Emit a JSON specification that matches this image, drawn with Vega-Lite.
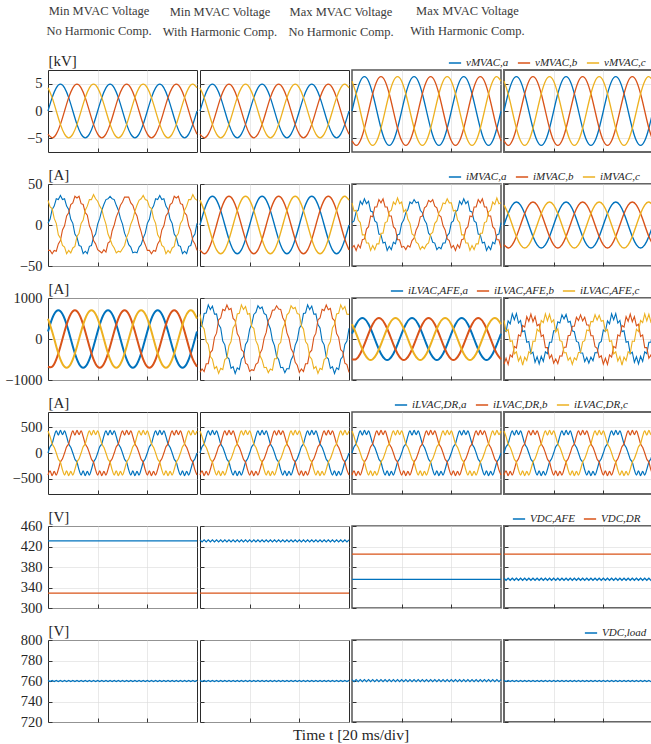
{
"$schema":"https://vega.github.io/schema/vega-lite/v6.json",
"padding":{"left":4,"top":3,"right":0,"bottom":0},
"config":{
"font":"Liberation Serif",
"view":{"stroke":"#2b2b2b","strokeWidth":1},
"axis":{"domain":false,"grid":true,"gridColor":"#dadada","gridWidth":0.6,"ticks":true,"tickSize":-4,"tickColor":"#333333","tickWidth":1,"labelFont":"Liberation Serif","labelFontSize":14.5,"labelColor":"#262626","labelPadding":10,"titleFont":"Liberation Serif","titleFontWeight":"normal","titleColor":"#262626","titleFontSize":15},
"axisY":{"titleAngle":0,"titleAlign":"left","titleBaseline":"alphabetic","titleX":0,"titleY":-5,"format":"d"},
"legend":{"orient":"none","direction":"horizontal","symbolType":"stroke","symbolStrokeWidth":1.5,"symbolSize":150,"labelFont":"Liberation Serif","labelFontStyle":"italic","labelFontSize":11,"labelColor":"#262626","columnPadding":5,"labelOffset":4,"padding":0},
"title":{"font":"Liberation Serif","fontSize":12.5,"fontWeight":"normal","color":"#3a3a3a","lineHeight":20,"offset":32,"anchor":"middle","frame":"group"}
},
"datasets":{
"vmin":[{"k":0,"a":0,"b":-4.24,"c":4.24},{"k":2,"a":2.45,"b":-4.9,"c":2.45},{"k":4,"a":4.24,"b":-4.24,"c":0},{"k":6,"a":4.9,"b":-2.45,"c":-2.45},{"k":8,"a":4.24,"b":0,"c":-4.24},{"k":10,"a":2.45,"b":2.45,"c":-4.9},{"k":12,"a":0,"b":4.24,"c":-4.24},{"k":14,"a":-2.45,"b":4.9,"c":-2.45},{"k":16,"a":-4.24,"b":4.24,"c":0},{"k":18,"a":-4.9,"b":2.45,"c":2.45},{"k":20,"a":-4.24,"b":0,"c":4.24},{"k":22,"a":-2.45,"b":-2.45,"c":4.9},
{"k":24,"a":0,"b":-4.24,"c":4.24},{"k":26,"a":2.45,"b":-4.9,"c":2.45},{"k":28,"a":4.24,"b":-4.24,"c":0},{"k":30,"a":4.9,"b":-2.45,"c":-2.45},{"k":32,"a":4.24,"b":0,"c":-4.24},{"k":34,"a":2.45,"b":2.45,"c":-4.9},{"k":36,"a":0,"b":4.24,"c":-4.24},{"k":38,"a":-2.45,"b":4.9,"c":-2.45},{"k":40,"a":-4.24,"b":4.24,"c":0},{"k":42,"a":-4.9,"b":2.45,"c":2.45},{"k":44,"a":-4.24,"b":0,"c":4.24},{"k":46,"a":-2.45,"b":-2.45,"c":4.9},
{"k":48,"a":0,"b":-4.24,"c":4.24},{"k":50,"a":2.45,"b":-4.9,"c":2.45},{"k":52,"a":4.24,"b":-4.24,"c":0},{"k":54,"a":4.9,"b":-2.45,"c":-2.45},{"k":56,"a":4.24,"b":0,"c":-4.24},{"k":58,"a":2.45,"b":2.45,"c":-4.9},{"k":60,"a":0,"b":4.24,"c":-4.24},{"k":62,"a":-2.45,"b":4.9,"c":-2.45},{"k":64,"a":-4.24,"b":4.24,"c":0},{"k":66,"a":-4.9,"b":2.45,"c":2.45},{"k":68,"a":-4.24,"b":0,"c":4.24},{"k":70,"a":-2.45,"b":-2.45,"c":4.9},{"k":72,"a":0,"b":-4.24,"c":4.24}],
"vmax":[{"k":0,"a":0,"b":-5.46,"c":5.46},{"k":2,"a":3.15,"b":-6.3,"c":3.15},{"k":4,"a":5.46,"b":-5.46,"c":0},{"k":6,"a":6.3,"b":-3.15,"c":-3.15},{"k":8,"a":5.46,"b":0,"c":-5.46},{"k":10,"a":3.15,"b":3.15,"c":-6.3},{"k":12,"a":0,"b":5.46,"c":-5.46},{"k":14,"a":-3.15,"b":6.3,"c":-3.15},{"k":16,"a":-5.46,"b":5.46,"c":0},{"k":18,"a":-6.3,"b":3.15,"c":3.15},{"k":20,"a":-5.46,"b":0,"c":5.46},{"k":22,"a":-3.15,"b":-3.15,"c":6.3},
{"k":24,"a":0,"b":-5.46,"c":5.46},{"k":26,"a":3.15,"b":-6.3,"c":3.15},{"k":28,"a":5.46,"b":-5.46,"c":0},{"k":30,"a":6.3,"b":-3.15,"c":-3.15},{"k":32,"a":5.46,"b":0,"c":-5.46},{"k":34,"a":3.15,"b":3.15,"c":-6.3},{"k":36,"a":0,"b":5.46,"c":-5.46},{"k":38,"a":-3.15,"b":6.3,"c":-3.15},{"k":40,"a":-5.46,"b":5.46,"c":0},{"k":42,"a":-6.3,"b":3.15,"c":3.15},{"k":44,"a":-5.46,"b":0,"c":5.46},{"k":46,"a":-3.15,"b":-3.15,"c":6.3},
{"k":48,"a":0,"b":-5.46,"c":5.46},{"k":50,"a":3.15,"b":-6.3,"c":3.15},{"k":52,"a":5.46,"b":-5.46,"c":0},{"k":54,"a":6.3,"b":-3.15,"c":-3.15},{"k":56,"a":5.46,"b":0,"c":-5.46},{"k":58,"a":3.15,"b":3.15,"c":-6.3},{"k":60,"a":0,"b":5.46,"c":-5.46},{"k":62,"a":-3.15,"b":6.3,"c":-3.15},{"k":64,"a":-5.46,"b":5.46,"c":0},{"k":66,"a":-6.3,"b":3.15,"c":3.15},{"k":68,"a":-5.46,"b":0,"c":5.46},{"k":70,"a":-3.15,"b":-3.15,"c":6.3},{"k":72,"a":0,"b":-5.46,"c":5.46}],
"imv1":[{"k":0,"a":2,"b":-31,"c":30},{"k":1,"a":7,"b":-31,"c":22},{"k":2,"a":19,"b":-35,"c":20},{"k":3,"a":23,"b":-31,"c":8},{"k":4,"a":32,"b":-32,"c":2},{"k":5,"a":31,"b":-23,"c":-12},{"k":6,"a":36,"b":-19,"c":-16},{"k":7,"a":31,"b":-6,"c":-25},{"k":8,"a":32,"b":-1,"c":-27},{"k":9,"a":23,"b":11,"c":-35},{"k":10,"a":19,"b":15,"c":-31},{"k":11,"a":7,"b":25,"c":-34},{"k":12,"a":2,"b":27,"c":-28},{"k":13,"a":-11,"b":35,"c":-26},{"k":14,"a":-15,"b":33,"c":-14},{"k":15,"a":-25,"b":35,"c":-10},{"k":16,"a":-26,"b":26,"c":2},{"k":17,"a":-35,"b":25,"c":6},{"k":18,"a":-32,"b":15,"c":18},{"k":19,"a":-35,"b":12,"c":23},{"k":20,"a":-26,"b":-1,"c":31},{"k":21,"a":-25,"b":-7,"c":31},{"k":22,"a":-15,"b":-19,"c":37},{"k":23,"a":-11,"b":-23,"c":32},
{"k":24,"a":1,"b":-30,"c":29},{"k":25,"a":8,"b":-32,"c":23},{"k":26,"a":18,"b":-34,"c":19},{"k":27,"a":25,"b":-30,"c":9},{"k":28,"a":31,"b":-33,"c":1},{"k":29,"a":32,"b":-22,"c":-11},{"k":30,"a":35,"b":-20,"c":-17},{"k":31,"a":32,"b":-7,"c":-24},{"k":32,"a":31,"b":0,"c":-28},{"k":33,"a":24,"b":10,"c":-34},{"k":34,"a":18,"b":16,"c":-32},{"k":35,"a":8,"b":24,"c":-33},{"k":36,"a":1,"b":28,"c":-29},{"k":37,"a":-10,"b":34,"c":-25},{"k":38,"a":-16,"b":34,"c":-15},{"k":39,"a":-24,"b":34,"c":-9},{"k":40,"a":-27,"b":27,"c":1},{"k":41,"a":-34,"b":24,"c":7},{"k":42,"a":-33,"b":16,"c":17},{"k":43,"a":-34,"b":11,"c":24},{"k":44,"a":-27,"b":0,"c":30},{"k":45,"a":-24,"b":-8,"c":32},{"k":46,"a":-16,"b":-18,"c":36},{"k":47,"a":-10,"b":-24,"c":31},
{"k":48,"a":2,"b":-31,"c":30},{"k":49,"a":7,"b":-31,"c":22},{"k":50,"a":19,"b":-35,"c":20},{"k":51,"a":23,"b":-31,"c":8},{"k":52,"a":32,"b":-32,"c":2},{"k":53,"a":31,"b":-23,"c":-12},{"k":54,"a":36,"b":-19,"c":-16},{"k":55,"a":31,"b":-6,"c":-25},{"k":56,"a":32,"b":-1,"c":-27},{"k":57,"a":23,"b":11,"c":-35},{"k":58,"a":19,"b":15,"c":-31},{"k":59,"a":7,"b":25,"c":-34},{"k":60,"a":2,"b":27,"c":-28},{"k":61,"a":-11,"b":35,"c":-26},{"k":62,"a":-15,"b":33,"c":-14},{"k":63,"a":-25,"b":35,"c":-10},{"k":64,"a":-26,"b":26,"c":2},{"k":65,"a":-35,"b":25,"c":6},{"k":66,"a":-32,"b":15,"c":18},{"k":67,"a":-35,"b":12,"c":23},{"k":68,"a":-26,"b":-1,"c":31},{"k":69,"a":-25,"b":-7,"c":31},{"k":70,"a":-15,"b":-19,"c":37},{"k":71,"a":-11,"b":-23,"c":32},{"k":72,"a":2,"b":-31,"c":30}],
"imv2":[{"k":0,"a":0,"b":-30.3,"c":30.3},{"k":2,"a":17.5,"b":-35,"c":17.5},{"k":4,"a":30.3,"b":-30.3,"c":0},{"k":6,"a":35,"b":-17.5,"c":-17.5},{"k":8,"a":30.3,"b":0,"c":-30.3},{"k":10,"a":17.5,"b":17.5,"c":-35},{"k":12,"a":0,"b":30.3,"c":-30.3},{"k":14,"a":-17.5,"b":35,"c":-17.5},{"k":16,"a":-30.3,"b":30.3,"c":0},{"k":18,"a":-35,"b":17.5,"c":17.5},{"k":20,"a":-30.3,"b":0,"c":30.3},{"k":22,"a":-17.5,"b":-17.5,"c":35},
{"k":24,"a":0,"b":-30.3,"c":30.3},{"k":26,"a":17.5,"b":-35,"c":17.5},{"k":28,"a":30.3,"b":-30.3,"c":0},{"k":30,"a":35,"b":-17.5,"c":-17.5},{"k":32,"a":30.3,"b":0,"c":-30.3},{"k":34,"a":17.5,"b":17.5,"c":-35},{"k":36,"a":0,"b":30.3,"c":-30.3},{"k":38,"a":-17.5,"b":35,"c":-17.5},{"k":40,"a":-30.3,"b":30.3,"c":0},{"k":42,"a":-35,"b":17.5,"c":17.5},{"k":44,"a":-30.3,"b":0,"c":30.3},{"k":46,"a":-17.5,"b":-17.5,"c":35},
{"k":48,"a":0,"b":-30.3,"c":30.3},{"k":50,"a":17.5,"b":-35,"c":17.5},{"k":52,"a":30.3,"b":-30.3,"c":0},{"k":54,"a":35,"b":-17.5,"c":-17.5},{"k":56,"a":30.3,"b":0,"c":-30.3},{"k":58,"a":17.5,"b":17.5,"c":-35},{"k":60,"a":0,"b":30.3,"c":-30.3},{"k":62,"a":-17.5,"b":35,"c":-17.5},{"k":64,"a":-30.3,"b":30.3,"c":0},{"k":66,"a":-35,"b":17.5,"c":17.5},{"k":68,"a":-30.3,"b":0,"c":30.3},{"k":70,"a":-17.5,"b":-17.5,"c":35},{"k":72,"a":0,"b":-30.3,"c":30.3}],
"imv3":[{"k":0,"a":3,"b":-28,"c":27},{"k":1,"a":5,"b":-25,"c":17},{"k":2,"a":16,"b":-31,"c":18},{"k":3,"a":18,"b":-24,"c":6},{"k":4,"a":29,"b":-28,"c":3},{"k":5,"a":25,"b":-18,"c":-12},{"k":6,"a":32,"b":-17,"c":-12},{"k":7,"a":26,"b":-5,"c":-22},{"k":8,"a":29,"b":-2,"c":-22},{"k":9,"a":17,"b":11,"c":-31},{"k":10,"a":16,"b":10,"c":-25},{"k":11,"a":5,"b":22,"c":-30},{"k":12,"a":3,"b":22,"c":-23},{"k":13,"a":-11,"b":31,"c":-23},{"k":14,"a":-12,"b":27,"c":-10},{"k":15,"a":-22,"b":32,"c":-10},{"k":16,"a":-21,"b":22,"c":3},{"k":17,"a":-31,"b":22,"c":4},{"k":18,"a":-26,"b":11,"c":16},{"k":19,"a":-30,"b":11,"c":18},{"k":20,"a":-21,"b":-2,"c":28},{"k":21,"a":-23,"b":-5,"c":25},{"k":22,"a":-12,"b":-18,"c":33},{"k":23,"a":-11,"b":-18,"c":26},
{"k":24,"a":2,"b":-27,"c":28},{"k":25,"a":6,"b":-26,"c":16},{"k":26,"a":15,"b":-30,"c":19},{"k":27,"a":19,"b":-25,"c":7},{"k":28,"a":28,"b":-27,"c":2},{"k":29,"a":26,"b":-19,"c":-11},{"k":30,"a":31,"b":-16,"c":-13},{"k":31,"a":27,"b":-6,"c":-21},{"k":32,"a":28,"b":-1,"c":-23},{"k":33,"a":18,"b":10,"c":-30},{"k":34,"a":15,"b":11,"c":-26},{"k":35,"a":6,"b":21,"c":-29},{"k":36,"a":2,"b":23,"c":-24},{"k":37,"a":-10,"b":30,"c":-22},{"k":38,"a":-13,"b":28,"c":-11},{"k":39,"a":-21,"b":31,"c":-9},{"k":40,"a":-22,"b":23,"c":2},{"k":41,"a":-30,"b":21,"c":5},{"k":42,"a":-27,"b":12,"c":15},{"k":43,"a":-29,"b":10,"c":19},{"k":44,"a":-22,"b":-1,"c":27},{"k":45,"a":-22,"b":-6,"c":26},{"k":46,"a":-13,"b":-17,"c":32},{"k":47,"a":-10,"b":-19,"c":27},
{"k":48,"a":3,"b":-28,"c":27},{"k":49,"a":5,"b":-25,"c":17},{"k":50,"a":16,"b":-31,"c":18},{"k":51,"a":18,"b":-24,"c":6},{"k":52,"a":29,"b":-28,"c":3},{"k":53,"a":25,"b":-18,"c":-12},{"k":54,"a":32,"b":-17,"c":-12},{"k":55,"a":26,"b":-5,"c":-22},{"k":56,"a":29,"b":-2,"c":-22},{"k":57,"a":17,"b":11,"c":-31},{"k":58,"a":16,"b":10,"c":-25},{"k":59,"a":5,"b":22,"c":-30},{"k":60,"a":3,"b":22,"c":-23},{"k":61,"a":-11,"b":31,"c":-23},{"k":62,"a":-12,"b":27,"c":-10},{"k":63,"a":-22,"b":32,"c":-10},{"k":64,"a":-21,"b":22,"c":3},{"k":65,"a":-31,"b":22,"c":4},{"k":66,"a":-26,"b":11,"c":16},{"k":67,"a":-30,"b":11,"c":18},{"k":68,"a":-21,"b":-2,"c":28},{"k":69,"a":-23,"b":-5,"c":25},{"k":70,"a":-12,"b":-18,"c":33},{"k":71,"a":-11,"b":-18,"c":26},{"k":72,"a":3,"b":-28,"c":27}],
"imv4":[{"k":0,"a":0,"b":-24.2,"c":24.2},{"k":2,"a":14,"b":-28,"c":14},{"k":4,"a":24.2,"b":-24.2,"c":0},{"k":6,"a":28,"b":-14,"c":-14},{"k":8,"a":24.2,"b":0,"c":-24.2},{"k":10,"a":14,"b":14,"c":-28},{"k":12,"a":0,"b":24.2,"c":-24.2},{"k":14,"a":-14,"b":28,"c":-14},{"k":16,"a":-24.2,"b":24.2,"c":0},{"k":18,"a":-28,"b":14,"c":14},{"k":20,"a":-24.2,"b":0,"c":24.2},{"k":22,"a":-14,"b":-14,"c":28},
{"k":24,"a":0,"b":-24.2,"c":24.2},{"k":26,"a":14,"b":-28,"c":14},{"k":28,"a":24.2,"b":-24.2,"c":0},{"k":30,"a":28,"b":-14,"c":-14},{"k":32,"a":24.2,"b":0,"c":-24.2},{"k":34,"a":14,"b":14,"c":-28},{"k":36,"a":0,"b":24.2,"c":-24.2},{"k":38,"a":-14,"b":28,"c":-14},{"k":40,"a":-24.2,"b":24.2,"c":0},{"k":42,"a":-28,"b":14,"c":14},{"k":44,"a":-24.2,"b":0,"c":24.2},{"k":46,"a":-14,"b":-14,"c":28},
{"k":48,"a":0,"b":-24.2,"c":24.2},{"k":50,"a":14,"b":-28,"c":14},{"k":52,"a":24.2,"b":-24.2,"c":0},{"k":54,"a":28,"b":-14,"c":-14},{"k":56,"a":24.2,"b":0,"c":-24.2},{"k":58,"a":14,"b":14,"c":-28},{"k":60,"a":0,"b":24.2,"c":-24.2},{"k":62,"a":-14,"b":28,"c":-14},{"k":64,"a":-24.2,"b":24.2,"c":0},{"k":66,"a":-28,"b":14,"c":14},{"k":68,"a":-24.2,"b":0,"c":24.2},{"k":70,"a":-14,"b":-14,"c":28},{"k":72,"a":0,"b":-24.2,"c":24.2}],
"iafe1":[{"k":0,"a":181,"b":-676,"c":495},{"k":2,"a":495,"b":-676,"c":181},{"k":4,"a":676,"b":-495,"c":-181},{"k":6,"a":676,"b":-181,"c":-495},{"k":8,"a":495,"b":181,"c":-676},{"k":10,"a":181,"b":495,"c":-676},{"k":12,"a":-181,"b":676,"c":-495},{"k":14,"a":-495,"b":676,"c":-181},{"k":16,"a":-676,"b":495,"c":181},{"k":18,"a":-676,"b":181,"c":495},{"k":20,"a":-495,"b":-181,"c":676},{"k":22,"a":-181,"b":-495,"c":676},
{"k":24,"a":181,"b":-676,"c":495},{"k":26,"a":495,"b":-676,"c":181},{"k":28,"a":676,"b":-495,"c":-181},{"k":30,"a":676,"b":-181,"c":-495},{"k":32,"a":495,"b":181,"c":-676},{"k":34,"a":181,"b":495,"c":-676},{"k":36,"a":-181,"b":676,"c":-495},{"k":38,"a":-495,"b":676,"c":-181},{"k":40,"a":-676,"b":495,"c":181},{"k":42,"a":-676,"b":181,"c":495},{"k":44,"a":-495,"b":-181,"c":676},{"k":46,"a":-181,"b":-495,"c":676},
{"k":48,"a":181,"b":-676,"c":495},{"k":50,"a":495,"b":-676,"c":181},{"k":52,"a":676,"b":-495,"c":-181},{"k":54,"a":676,"b":-181,"c":-495},{"k":56,"a":495,"b":181,"c":-676},{"k":58,"a":181,"b":495,"c":-676},{"k":60,"a":-181,"b":676,"c":-495},{"k":62,"a":-495,"b":676,"c":-181},{"k":64,"a":-676,"b":495,"c":181},{"k":66,"a":-676,"b":181,"c":495},{"k":68,"a":-495,"b":-181,"c":676},{"k":70,"a":-181,"b":-495,"c":676},{"k":72,"a":181,"b":-676,"c":495}],
"iafe2":[{"k":0,"a":262,"b":-813,"c":601},{"k":1,"a":340,"b":-730,"c":320},{"k":2,"a":621,"b":-793,"c":242},{"k":3,"a":635,"b":-605,"c":-60},{"k":4,"a":833,"b":-601,"c":-132},{"k":5,"a":720,"b":-330,"c":-430},{"k":6,"a":803,"b":-272,"c":-491},{"k":7,"a":605,"b":40,"c":-725},{"k":8,"a":611,"b":142,"c":-673},{"k":9,"a":350,"b":470,"c":-840},{"k":10,"a":272,"b":511,"c":-713},{"k":11,"a":-50,"b":725,"c":-745},{"k":12,"a":-142,"b":693,"c":-501},{"k":13,"a":-440,"b":830,"c":-460},{"k":14,"a":-481,"b":713,"c":-162},{"k":15,"a":-715,"b":745,"c":-60},{"k":16,"a":-673,"b":501,"c":272},{"k":17,"a":-840,"b":450,"c":350},{"k":18,"a":-703,"b":132,"c":611},{"k":19,"a":-745,"b":40,"c":625},{"k":20,"a":-491,"b":-262,"c":833},{"k":21,"a":-430,"b":-310,"c":720},{"k":22,"a":-132,"b":-591,"c":793},{"k":23,"a":-50,"b":-625,"c":605},
{"k":24,"a":240,"b":-790,"c":620},{"k":25,"a":360,"b":-750,"c":300},{"k":26,"a":600,"b":-770,"c":260},{"k":27,"a":650,"b":-620,"c":-40},{"k":28,"a":810,"b":-580,"c":-150},{"k":29,"a":740,"b":-350,"c":-410},{"k":30,"a":780,"b":-250,"c":-510},{"k":31,"a":620,"b":20,"c":-700},{"k":32,"a":590,"b":160,"c":-690},{"k":33,"a":370,"b":450,"c":-820},{"k":34,"a":250,"b":530,"c":-730},{"k":35,"a":-30,"b":700,"c":-760},{"k":36,"a":-160,"b":710,"c":-480},{"k":37,"a":-420,"b":810,"c":-480},{"k":38,"a":-500,"b":730,"c":-140},{"k":39,"a":-700,"b":720,"c":-80},{"k":40,"a":-690,"b":520,"c":250},{"k":41,"a":-820,"b":430,"c":370},{"k":42,"a":-720,"b":150,"c":590},{"k":43,"a":-730,"b":20,"c":640},{"k":44,"a":-510,"b":-240,"c":810},{"k":45,"a":-410,"b":-330,"c":740},{"k":46,"a":-150,"b":-570,"c":770},{"k":47,"a":-30,"b":-640,"c":620},
{"k":48,"a":262,"b":-813,"c":601},{"k":49,"a":340,"b":-730,"c":320},{"k":50,"a":621,"b":-793,"c":242},{"k":51,"a":635,"b":-605,"c":-60},{"k":52,"a":833,"b":-601,"c":-132},{"k":53,"a":720,"b":-330,"c":-430},{"k":54,"a":803,"b":-272,"c":-491},{"k":55,"a":605,"b":40,"c":-725},{"k":56,"a":611,"b":142,"c":-673},{"k":57,"a":350,"b":470,"c":-840},{"k":58,"a":272,"b":511,"c":-713},{"k":59,"a":-50,"b":725,"c":-745},{"k":60,"a":-142,"b":693,"c":-501},{"k":61,"a":-440,"b":830,"c":-460},{"k":62,"a":-481,"b":713,"c":-162},{"k":63,"a":-715,"b":745,"c":-60},{"k":64,"a":-673,"b":501,"c":272},{"k":65,"a":-840,"b":450,"c":350},{"k":66,"a":-703,"b":132,"c":611},{"k":67,"a":-745,"b":40,"c":625},{"k":68,"a":-491,"b":-262,"c":833},{"k":69,"a":-430,"b":-310,"c":720},{"k":70,"a":-132,"b":-591,"c":793},{"k":71,"a":-50,"b":-625,"c":605},{"k":72,"a":262,"b":-813,"c":601}],
"iafe3":[{"k":0,"a":132,"b":-493,"c":361},{"k":2,"a":361,"b":-493,"c":132},{"k":4,"a":493,"b":-361,"c":-132},{"k":6,"a":493,"b":-132,"c":-361},{"k":8,"a":361,"b":132,"c":-493},{"k":10,"a":132,"b":361,"c":-493},{"k":12,"a":-132,"b":493,"c":-361},{"k":14,"a":-361,"b":493,"c":-132},{"k":16,"a":-493,"b":361,"c":132},{"k":18,"a":-493,"b":132,"c":361},{"k":20,"a":-361,"b":-132,"c":493},{"k":22,"a":-132,"b":-361,"c":493},
{"k":24,"a":132,"b":-493,"c":361},{"k":26,"a":361,"b":-493,"c":132},{"k":28,"a":493,"b":-361,"c":-132},{"k":30,"a":493,"b":-132,"c":-361},{"k":32,"a":361,"b":132,"c":-493},{"k":34,"a":132,"b":361,"c":-493},{"k":36,"a":-132,"b":493,"c":-361},{"k":38,"a":-361,"b":493,"c":-132},{"k":40,"a":-493,"b":361,"c":132},{"k":42,"a":-493,"b":132,"c":361},{"k":44,"a":-361,"b":-132,"c":493},{"k":46,"a":-132,"b":-361,"c":493},
{"k":48,"a":132,"b":-493,"c":361},{"k":50,"a":361,"b":-493,"c":132},{"k":52,"a":493,"b":-361,"c":-132},{"k":54,"a":493,"b":-132,"c":-361},{"k":56,"a":361,"b":132,"c":-493},{"k":58,"a":132,"b":361,"c":-493},{"k":60,"a":-132,"b":493,"c":-361},{"k":62,"a":-361,"b":493,"c":-132},{"k":64,"a":-493,"b":361,"c":132},{"k":66,"a":-493,"b":132,"c":361},{"k":68,"a":-361,"b":-132,"c":493},{"k":70,"a":-132,"b":-361,"c":493},{"k":72,"a":132,"b":-493,"c":361}],
"iafe4":[{"k":0,"a":220,"b":-612,"c":452},{"k":1,"a":180,"b":-470,"c":190},{"k":2,"a":442,"b":-622,"c":230},{"k":3,"a":368,"b":-388,"c":-60},{"k":4,"a":612,"b":-442,"c":-40},{"k":5,"a":470,"b":-180,"c":-360},{"k":6,"a":622,"b":-220,"c":-312},{"k":7,"a":388,"b":100,"c":-538},{"k":8,"a":452,"b":70,"c":-432},{"k":9,"a":180,"b":330,"c":-640},{"k":10,"a":200,"b":292,"c":-442},{"k":11,"a":-80,"b":548,"c":-528},{"k":12,"a":-60,"b":432,"c":-312},{"k":13,"a":-360,"b":610,"c":-350},{"k":14,"a":-322,"b":422,"c":-50},{"k":15,"a":-568,"b":548,"c":-60},{"k":16,"a":-432,"b":322,"c":240},{"k":17,"a":-610,"b":360,"c":180},{"k":18,"a":-422,"b":60,"c":452},{"k":19,"a":-548,"b":100,"c":398},{"k":20,"a":-312,"b":-210,"c":612},{"k":21,"a":-360,"b":-210,"c":440},{"k":22,"a":-80,"b":-472,"c":602},{"k":23,"a":-80,"b":-388,"c":408},
{"k":24,"a":200,"b":-590,"c":470},{"k":25,"a":200,"b":-490,"c":170},{"k":26,"a":420,"b":-600,"c":250},{"k":27,"a":390,"b":-410,"c":-40},{"k":28,"a":590,"b":-420,"c":-60},{"k":29,"a":490,"b":-200,"c":-340},{"k":30,"a":600,"b":-200,"c":-330},{"k":31,"a":410,"b":80,"c":-520},{"k":32,"a":430,"b":90,"c":-450},{"k":33,"a":200,"b":310,"c":-620},{"k":34,"a":180,"b":310,"c":-460},{"k":35,"a":-60,"b":530,"c":-510},{"k":36,"a":-80,"b":450,"c":-330},{"k":37,"a":-340,"b":590,"c":-330},{"k":38,"a":-340,"b":440,"c":-70},{"k":39,"a":-550,"b":530,"c":-40},{"k":40,"a":-450,"b":340,"c":220},{"k":41,"a":-590,"b":340,"c":200},{"k":42,"a":-440,"b":80,"c":430},{"k":43,"a":-530,"b":80,"c":420},{"k":44,"a":-330,"b":-190,"c":590},{"k":45,"a":-340,"b":-230,"c":460},{"k":46,"a":-100,"b":-450,"c":580},{"k":47,"a":-60,"b":-410,"c":430},
{"k":48,"a":220,"b":-612,"c":452},{"k":49,"a":180,"b":-470,"c":190},{"k":50,"a":442,"b":-622,"c":230},{"k":51,"a":368,"b":-388,"c":-60},{"k":52,"a":612,"b":-442,"c":-40},{"k":53,"a":470,"b":-180,"c":-360},{"k":54,"a":622,"b":-220,"c":-312},{"k":55,"a":388,"b":100,"c":-538},{"k":56,"a":452,"b":70,"c":-432},{"k":57,"a":180,"b":330,"c":-640},{"k":58,"a":200,"b":292,"c":-442},{"k":59,"a":-80,"b":548,"c":-528},{"k":60,"a":-60,"b":432,"c":-312},{"k":61,"a":-360,"b":610,"c":-350},{"k":62,"a":-322,"b":422,"c":-50},{"k":63,"a":-568,"b":548,"c":-60},{"k":64,"a":-432,"b":322,"c":240},{"k":65,"a":-610,"b":360,"c":180},{"k":66,"a":-422,"b":60,"c":452},{"k":67,"a":-548,"b":100,"c":398},{"k":68,"a":-312,"b":-210,"c":612},{"k":69,"a":-360,"b":-210,"c":440},{"k":70,"a":-80,"b":-472,"c":602},{"k":71,"a":-80,"b":-388,"c":408},{"k":72,"a":220,"b":-612,"c":452}],
"idr":[{"k":0,"a":0,"b":-430,"c":430},{"k":1,"a":120,"b":-350,"c":320},{"k":2,"a":180,"b":-440,"c":180},{"k":3,"a":330,"b":-360,"c":110},{"k":4,"a":430,"b":-430,"c":0},{"k":5,"a":350,"b":-320,"c":-120},{"k":6,"a":440,"b":-180,"c":-180},{"k":7,"a":360,"b":-110,"c":-330},{"k":8,"a":430,"b":0,"c":-430},{"k":9,"a":320,"b":120,"c":-350},{"k":10,"a":180,"b":180,"c":-440},{"k":11,"a":110,"b":330,"c":-360},{"k":12,"a":0,"b":430,"c":-430},{"k":13,"a":-120,"b":350,"c":-320},{"k":14,"a":-180,"b":440,"c":-180},{"k":15,"a":-330,"b":360,"c":-110},{"k":16,"a":-430,"b":430,"c":0},{"k":17,"a":-350,"b":320,"c":120},{"k":18,"a":-440,"b":180,"c":180},{"k":19,"a":-360,"b":110,"c":330},{"k":20,"a":-430,"b":0,"c":430},{"k":21,"a":-320,"b":-120,"c":350},{"k":22,"a":-180,"b":-180,"c":440},{"k":23,"a":-110,"b":-330,"c":360},
{"k":24,"a":0,"b":-430,"c":430},{"k":25,"a":120,"b":-350,"c":320},{"k":26,"a":180,"b":-440,"c":180},{"k":27,"a":330,"b":-360,"c":110},{"k":28,"a":430,"b":-430,"c":0},{"k":29,"a":350,"b":-320,"c":-120},{"k":30,"a":440,"b":-180,"c":-180},{"k":31,"a":360,"b":-110,"c":-330},{"k":32,"a":430,"b":0,"c":-430},{"k":33,"a":320,"b":120,"c":-350},{"k":34,"a":180,"b":180,"c":-440},{"k":35,"a":110,"b":330,"c":-360},{"k":36,"a":0,"b":430,"c":-430},{"k":37,"a":-120,"b":350,"c":-320},{"k":38,"a":-180,"b":440,"c":-180},{"k":39,"a":-330,"b":360,"c":-110},{"k":40,"a":-430,"b":430,"c":0},{"k":41,"a":-350,"b":320,"c":120},{"k":42,"a":-440,"b":180,"c":180},{"k":43,"a":-360,"b":110,"c":330},{"k":44,"a":-430,"b":0,"c":430},{"k":45,"a":-320,"b":-120,"c":350},{"k":46,"a":-180,"b":-180,"c":440},{"k":47,"a":-110,"b":-330,"c":360},
{"k":48,"a":0,"b":-430,"c":430},{"k":49,"a":120,"b":-350,"c":320},{"k":50,"a":180,"b":-440,"c":180},{"k":51,"a":330,"b":-360,"c":110},{"k":52,"a":430,"b":-430,"c":0},{"k":53,"a":350,"b":-320,"c":-120},{"k":54,"a":440,"b":-180,"c":-180},{"k":55,"a":360,"b":-110,"c":-330},{"k":56,"a":430,"b":0,"c":-430},{"k":57,"a":320,"b":120,"c":-350},{"k":58,"a":180,"b":180,"c":-440},{"k":59,"a":110,"b":330,"c":-360},{"k":60,"a":0,"b":430,"c":-430},{"k":61,"a":-120,"b":350,"c":-320},{"k":62,"a":-180,"b":440,"c":-180},{"k":63,"a":-330,"b":360,"c":-110},{"k":64,"a":-430,"b":430,"c":0},{"k":65,"a":-350,"b":320,"c":120},{"k":66,"a":-440,"b":180,"c":180},{"k":67,"a":-360,"b":110,"c":330},{"k":68,"a":-430,"b":0,"c":430},{"k":69,"a":-320,"b":-120,"c":350},{"k":70,"a":-180,"b":-180,"c":440},{"k":71,"a":-110,"b":-330,"c":360},{"k":72,"a":0,"b":-430,"c":430}],
"vdc1":[{"k":0,"a":431,"b":329},{"k":72,"a":431,"b":329}],
"vdc2":[{"k":0,"a":433,"b":329},{"k":1,"a":429},{"k":2,"a":433},{"k":3,"a":429},{"k":4,"a":433},{"k":5,"a":429},{"k":6,"a":433},{"k":7,"a":429},{"k":8,"a":433},{"k":9,"a":429},{"k":10,"a":433},{"k":11,"a":429},{"k":12,"a":433},{"k":13,"a":429},{"k":14,"a":433},{"k":15,"a":429},{"k":16,"a":433},{"k":17,"a":429},{"k":18,"a":433},{"k":19,"a":429},{"k":20,"a":433},{"k":21,"a":429},{"k":22,"a":433},{"k":23,"a":429},{"k":24,"a":433},{"k":25,"a":429},{"k":26,"a":433},{"k":27,"a":429},{"k":28,"a":433},{"k":29,"a":429},{"k":30,"a":433},{"k":31,"a":429},{"k":32,"a":433},{"k":33,"a":429},{"k":34,"a":433},{"k":35,"a":429},{"k":36,"a":433},{"k":37,"a":429},{"k":38,"a":433},{"k":39,"a":429},{"k":40,"a":433},{"k":41,"a":429},{"k":42,"a":433},{"k":43,"a":429},{"k":44,"a":433},{"k":45,"a":429},{"k":46,"a":433},{"k":47,"a":429},{"k":48,"a":433},{"k":49,"a":429},{"k":50,"a":433},{"k":51,"a":429},{"k":52,"a":433},{"k":53,"a":429},{"k":54,"a":433},{"k":55,"a":429},{"k":56,"a":433},{"k":57,"a":429},{"k":58,"a":433},{"k":59,"a":429},{"k":60,"a":433},{"k":61,"a":429},{"k":62,"a":433},{"k":63,"a":429},{"k":64,"a":433},{"k":65,"a":429},{"k":66,"a":433},{"k":67,"a":429},{"k":68,"a":433},{"k":69,"a":429},{"k":70,"a":433},{"k":71,"a":429},{"k":72,"a":433,"b":329}],
"vdc3":[{"k":0,"a":356,"b":405},{"k":72,"a":356,"b":405}],
"vdc4":[{"k":0,"a":358,"b":405},{"k":1,"a":354},{"k":2,"a":358},{"k":3,"a":354},{"k":4,"a":358},{"k":5,"a":354},{"k":6,"a":358},{"k":7,"a":354},{"k":8,"a":358},{"k":9,"a":354},{"k":10,"a":358},{"k":11,"a":354},{"k":12,"a":358},{"k":13,"a":354},{"k":14,"a":358},{"k":15,"a":354},{"k":16,"a":358},{"k":17,"a":354},{"k":18,"a":358},{"k":19,"a":354},{"k":20,"a":358},{"k":21,"a":354},{"k":22,"a":358},{"k":23,"a":354},{"k":24,"a":358},{"k":25,"a":354},{"k":26,"a":358},{"k":27,"a":354},{"k":28,"a":358},{"k":29,"a":354},{"k":30,"a":358},{"k":31,"a":354},{"k":32,"a":358},{"k":33,"a":354},{"k":34,"a":358},{"k":35,"a":354},{"k":36,"a":358},{"k":37,"a":354},{"k":38,"a":358},{"k":39,"a":354},{"k":40,"a":358},{"k":41,"a":354},{"k":42,"a":358},{"k":43,"a":354},{"k":44,"a":358},{"k":45,"a":354},{"k":46,"a":358},{"k":47,"a":354},{"k":48,"a":358},{"k":49,"a":354},{"k":50,"a":358},{"k":51,"a":354},{"k":52,"a":358},{"k":53,"a":354},{"k":54,"a":358},{"k":55,"a":354},{"k":56,"a":358},{"k":57,"a":354},{"k":58,"a":358},{"k":59,"a":354},{"k":60,"a":358},{"k":61,"a":354},{"k":62,"a":358},{"k":63,"a":354},{"k":64,"a":358},{"k":65,"a":354},{"k":66,"a":358},{"k":67,"a":354},{"k":68,"a":358},{"k":69,"a":354},{"k":70,"a":358},{"k":71,"a":354},{"k":72,"a":358,"b":405}],
"vload":[{"k":0,"a":760.6},{"k":1,"a":759.4},{"k":2,"a":760.6},{"k":3,"a":759.4},{"k":4,"a":760.6},{"k":5,"a":759.4},{"k":6,"a":760.6},{"k":7,"a":759.4},{"k":8,"a":760.6},{"k":9,"a":759.4},{"k":10,"a":760.6},{"k":11,"a":759.4},{"k":12,"a":760.6},{"k":13,"a":759.4},{"k":14,"a":760.6},{"k":15,"a":759.4},{"k":16,"a":760.6},{"k":17,"a":759.4},{"k":18,"a":760.6},{"k":19,"a":759.4},{"k":20,"a":760.6},{"k":21,"a":759.4},{"k":22,"a":760.6},{"k":23,"a":759.4},{"k":24,"a":760.6},{"k":25,"a":759.4},{"k":26,"a":760.6},{"k":27,"a":759.4},{"k":28,"a":760.6},{"k":29,"a":759.4},{"k":30,"a":760.6},{"k":31,"a":759.4},{"k":32,"a":760.6},{"k":33,"a":759.4},{"k":34,"a":760.6},{"k":35,"a":759.4},{"k":36,"a":760.6},{"k":37,"a":759.4},{"k":38,"a":760.6},{"k":39,"a":759.4},{"k":40,"a":760.6},{"k":41,"a":759.4},{"k":42,"a":760.6},{"k":43,"a":759.4},{"k":44,"a":760.6},{"k":45,"a":759.4},{"k":46,"a":760.6},{"k":47,"a":759.4},{"k":48,"a":760.6},{"k":49,"a":759.4},{"k":50,"a":760.6},{"k":51,"a":759.4},{"k":52,"a":760.6},{"k":53,"a":759.4},{"k":54,"a":760.6},{"k":55,"a":759.4},{"k":56,"a":760.6},{"k":57,"a":759.4},{"k":58,"a":760.6},{"k":59,"a":759.4},{"k":60,"a":760.6},{"k":61,"a":759.4},{"k":62,"a":760.6},{"k":63,"a":759.4},{"k":64,"a":760.6},{"k":65,"a":759.4},{"k":66,"a":760.6},{"k":67,"a":759.4},{"k":68,"a":760.6},{"k":69,"a":759.4},{"k":70,"a":760.6},{"k":71,"a":759.4},{"k":72,"a":760.6}],
"vload3":[{"k":0,"a":761.4},{"k":1,"a":759.4},{"k":2,"a":761.4},{"k":3,"a":759.4},{"k":4,"a":761.4},{"k":5,"a":759.4},{"k":6,"a":761.4},{"k":7,"a":759.4},{"k":8,"a":761.4},{"k":9,"a":759.4},{"k":10,"a":761.4},{"k":11,"a":759.4},{"k":12,"a":761.4},{"k":13,"a":759.4},{"k":14,"a":761.4},{"k":15,"a":759.4},{"k":16,"a":761.4},{"k":17,"a":759.4},{"k":18,"a":761.4},{"k":19,"a":759.4},{"k":20,"a":761.4},{"k":21,"a":759.4},{"k":22,"a":761.4},{"k":23,"a":759.4},{"k":24,"a":761.4},{"k":25,"a":759.4},{"k":26,"a":761.4},{"k":27,"a":759.4},{"k":28,"a":761.4},{"k":29,"a":759.4},{"k":30,"a":761.4},{"k":31,"a":759.4},{"k":32,"a":761.4},{"k":33,"a":759.4},{"k":34,"a":761.4},{"k":35,"a":759.4},{"k":36,"a":761.4},{"k":37,"a":759.4},{"k":38,"a":761.4},{"k":39,"a":759.4},{"k":40,"a":761.4},{"k":41,"a":759.4},{"k":42,"a":761.4},{"k":43,"a":759.4},{"k":44,"a":761.4},{"k":45,"a":759.4},{"k":46,"a":761.4},{"k":47,"a":759.4},{"k":48,"a":761.4},{"k":49,"a":759.4},{"k":50,"a":761.4},{"k":51,"a":759.4},{"k":52,"a":761.4},{"k":53,"a":759.4},{"k":54,"a":761.4},{"k":55,"a":759.4},{"k":56,"a":761.4},{"k":57,"a":759.4},{"k":58,"a":761.4},{"k":59,"a":759.4},{"k":60,"a":761.4},{"k":61,"a":759.4},{"k":62,"a":761.4},{"k":63,"a":759.4},{"k":64,"a":761.4},{"k":65,"a":759.4},{"k":66,"a":761.4},{"k":67,"a":759.4},{"k":68,"a":761.4},{"k":69,"a":759.4},{"k":70,"a":761.4},{"k":71,"a":759.4},{"k":72,"a":761.4}]
},
"columns":4,
"spacing":{"row":32,"column":3},
"bounds":"flush",
"resolve":{"scale":{"color":"independent","x":"independent","y":"independent"},"legend":{"color":"independent"}},
"concat":[
{"width":149,"height":82,"data":{"name":"vmin"},"title":{"text":["Min MVAC Voltage","No Harmonic Comp."],"dx":-23.5,"dy":16},"transform":[{"fold":["a","b","c"],"as":["ph","val"]},{"filter":"isValid(datum.val)"}],"mark":{"type":"line","strokeWidth":1.3,"interpolate":"natural"},"encoding":{"x":{"field":"k","type":"quantitative","scale":{"domain":[0,72],"nice":false,"zero":false},"axis":{"values":[24,48],"labels":false,"title":null}},"y":{"field":"val","type":"quantitative","scale":{"domain":[-7.5,7.5],"nice":false,"zero":false},"axis":{"values":[-5,0,5],"title":"[kV]"}},"color":{"field":"ph","type":"nominal","scale":{"domain":["a","b","c"],"range":["#0072BD","#D95319","#EDB120"]},"legend":null}}},
{"width":149,"height":82,"data":{"name":"vmin"},"title":{"text":["Min MVAC Voltage","With Harmonic Comp."],"dx":-54.5},"transform":[{"fold":["a","b","c"],"as":["ph","val"]},{"filter":"isValid(datum.val)"}],"mark":{"type":"line","strokeWidth":1.3,"interpolate":"natural"},"encoding":{"x":{"field":"k","type":"quantitative","scale":{"domain":[0,72],"nice":false,"zero":false},"axis":{"values":[24,48],"labels":false,"title":null}},"y":{"field":"val","type":"quantitative","scale":{"domain":[-7.5,7.5],"nice":false,"zero":false},"axis":{"values":[-5,0,5],"labels":false,"title":null}},"color":{"field":"ph","type":"nominal","scale":{"domain":["a","b","c"],"range":["#0072BD","#D95319","#EDB120"]},"legend":null}}},
{"width":149,"height":82,"view":{"stroke":"#555555","strokeWidth":1.5},"data":{"name":"vmax"},"title":{"text":["Max MVAC Voltage","No Harmonic Comp."],"dx":-85.5},"transform":[{"fold":["a","b","c"],"as":["ph","val"]},{"filter":"isValid(datum.val)"}],"mark":{"type":"line","strokeWidth":1.3,"interpolate":"natural"},"encoding":{"x":{"field":"k","type":"quantitative","scale":{"domain":[0,72],"nice":false,"zero":false},"axis":{"values":[24,48],"labels":false,"title":null}},"y":{"field":"val","type":"quantitative","scale":{"domain":[-7.5,7.5],"nice":false,"zero":false},"axis":{"values":[-5,0,5],"labels":false,"title":null}},"color":{"field":"ph","type":"nominal","scale":{"domain":["a","b","c"],"range":["#0072BD","#D95319","#EDB120"]},"legend":null}}},
{"width":149,"height":82,"view":{"stroke":"#666666","strokeWidth":2},"data":{"name":"vmax"},"title":{"text":["Max MVAC Voltage","With Harmonic Comp."],"dx":-111,"dy":13},"transform":[{"fold":["a","b","c"],"as":["ph","val"]},{"filter":"isValid(datum.val)"}],"mark":{"type":"line","strokeWidth":1.3,"interpolate":"natural"},"encoding":{"x":{"field":"k","type":"quantitative","scale":{"domain":[0,72],"nice":false,"zero":false},"axis":{"values":[24,48],"labels":false,"title":null}},"y":{"field":"val","type":"quantitative","scale":{"domain":[-7.5,7.5],"nice":false,"zero":false},"axis":{"values":[-5,0,5],"labels":false,"title":null}},"color":{"field":"ph","type":"nominal","scale":{"domain":["a","b","c"],"range":["#0072BD","#D95319","#EDB120"]},"legend":{"title":null,"legendX":-56,"legendY":-14,"labelExpr":"datum.label=='a'?'vMVAC,a':datum.label=='b'?'vMVAC,b':'vMVAC,c'"}}}},
{"width":149,"height":82,"data":{"name":"imv1"},"transform":[{"fold":["a","b","c"],"as":["ph","val"]},{"filter":"isValid(datum.val)"}],"mark":{"type":"line","strokeWidth":1.1},"encoding":{"x":{"field":"k","type":"quantitative","scale":{"domain":[0,72],"nice":false,"zero":false},"axis":{"values":[24,48],"labels":false,"title":null}},"y":{"field":"val","type":"quantitative","scale":{"domain":[-50,50],"nice":false,"zero":false},"axis":{"values":[-50,0,50],"title":"[A]"}},"color":{"field":"ph","type":"nominal","scale":{"domain":["a","b","c"],"range":["#0072BD","#D95319","#EDB120"]},"legend":null}}},
{"width":149,"height":82,"data":{"name":"imv2"},"transform":[{"fold":["a","b","c"],"as":["ph","val"]},{"filter":"isValid(datum.val)"}],"mark":{"type":"line","strokeWidth":1.4,"interpolate":"natural"},"encoding":{"x":{"field":"k","type":"quantitative","scale":{"domain":[0,72],"nice":false,"zero":false},"axis":{"values":[24,48],"labels":false,"title":null}},"y":{"field":"val","type":"quantitative","scale":{"domain":[-50,50],"nice":false,"zero":false},"axis":{"values":[-50,0,50],"labels":false,"title":null}},"color":{"field":"ph","type":"nominal","scale":{"domain":["a","b","c"],"range":["#0072BD","#D95319","#EDB120"]},"legend":null}}},
{"width":149,"height":82,"view":{"stroke":"#555555","strokeWidth":1.5},"data":{"name":"imv3"},"transform":[{"fold":["a","b","c"],"as":["ph","val"]},{"filter":"isValid(datum.val)"}],"mark":{"type":"line","strokeWidth":1.1},"encoding":{"x":{"field":"k","type":"quantitative","scale":{"domain":[0,72],"nice":false,"zero":false},"axis":{"values":[24,48],"labels":false,"title":null}},"y":{"field":"val","type":"quantitative","scale":{"domain":[-50,50],"nice":false,"zero":false},"axis":{"values":[-50,0,50],"labels":false,"title":null}},"color":{"field":"ph","type":"nominal","scale":{"domain":["a","b","c"],"range":["#0072BD","#D95319","#EDB120"]},"legend":null}}},
{"width":149,"height":82,"view":{"stroke":"#666666","strokeWidth":2},"data":{"name":"imv4"},"transform":[{"fold":["a","b","c"],"as":["ph","val"]},{"filter":"isValid(datum.val)"}],"mark":{"type":"line","strokeWidth":1.4,"interpolate":"natural"},"encoding":{"x":{"field":"k","type":"quantitative","scale":{"domain":[0,72],"nice":false,"zero":false},"axis":{"values":[24,48],"labels":false,"title":null}},"y":{"field":"val","type":"quantitative","scale":{"domain":[-50,50],"nice":false,"zero":false},"axis":{"values":[-50,0,50],"labels":false,"title":null}},"color":{"field":"ph","type":"nominal","scale":{"domain":["a","b","c"],"range":["#0072BD","#D95319","#EDB120"]},"legend":{"title":null,"legendX":-56,"legendY":-14,"labelExpr":"datum.label=='a'?'iMVAC,a':datum.label=='b'?'iMVAC,b':'iMVAC,c'"}}}},
{"width":149,"height":82,"data":{"name":"iafe1"},"transform":[{"fold":["a","b","c"],"as":["ph","val"]},{"filter":"isValid(datum.val)"}],"mark":{"type":"line","strokeWidth":2,"interpolate":"natural"},"encoding":{"x":{"field":"k","type":"quantitative","scale":{"domain":[0,72],"nice":false,"zero":false},"axis":{"values":[24,48],"labels":false,"title":null}},"y":{"field":"val","type":"quantitative","scale":{"domain":[-1000,1000],"nice":false,"zero":false},"axis":{"values":[-1000,0,1000],"title":"[A]"}},"color":{"field":"ph","type":"nominal","scale":{"domain":["a","b","c"],"range":["#0072BD","#D95319","#EDB120"]},"legend":null}}},
{"width":149,"height":82,"data":{"name":"iafe2"},"transform":[{"fold":["a","b","c"],"as":["ph","val"]},{"filter":"isValid(datum.val)"}],"mark":{"type":"line","strokeWidth":1.1},"encoding":{"x":{"field":"k","type":"quantitative","scale":{"domain":[0,72],"nice":false,"zero":false},"axis":{"values":[24,48],"labels":false,"title":null}},"y":{"field":"val","type":"quantitative","scale":{"domain":[-1000,1000],"nice":false,"zero":false},"axis":{"values":[-1000,0,1000],"labels":false,"title":null}},"color":{"field":"ph","type":"nominal","scale":{"domain":["a","b","c"],"range":["#0072BD","#D95319","#EDB120"]},"legend":null}}},
{"width":149,"height":82,"view":{"stroke":"#555555","strokeWidth":1.5},"data":{"name":"iafe3"},"transform":[{"fold":["a","b","c"],"as":["ph","val"]},{"filter":"isValid(datum.val)"}],"mark":{"type":"line","strokeWidth":2,"interpolate":"natural"},"encoding":{"x":{"field":"k","type":"quantitative","scale":{"domain":[0,72],"nice":false,"zero":false},"axis":{"values":[24,48],"labels":false,"title":null}},"y":{"field":"val","type":"quantitative","scale":{"domain":[-1000,1000],"nice":false,"zero":false},"axis":{"values":[-1000,0,1000],"labels":false,"title":null}},"color":{"field":"ph","type":"nominal","scale":{"domain":["a","b","c"],"range":["#0072BD","#D95319","#EDB120"]},"legend":null}}},
{"width":149,"height":82,"view":{"stroke":"#666666","strokeWidth":2},"data":{"name":"iafe4"},"transform":[{"fold":["a","b","c"],"as":["ph","val"]},{"filter":"isValid(datum.val)"}],"mark":{"type":"line","strokeWidth":1.1},"encoding":{"x":{"field":"k","type":"quantitative","scale":{"domain":[0,72],"nice":false,"zero":false},"axis":{"values":[24,48],"labels":false,"title":null}},"y":{"field":"val","type":"quantitative","scale":{"domain":[-1000,1000],"nice":false,"zero":false},"axis":{"values":[-1000,0,1000],"labels":false,"title":null}},"color":{"field":"ph","type":"nominal","scale":{"domain":["a","b","c"],"range":["#0072BD","#D95319","#EDB120"]},"legend":{"title":null,"legendX":-114,"legendY":-14,"labelExpr":"datum.label=='a'?'iLVAC,AFE,a':datum.label=='b'?'iLVAC,AFE,b':'iLVAC,AFE,c'"}}}},
{"width":149,"height":82,"data":{"name":"idr"},"transform":[{"fold":["a","b","c"],"as":["ph","val"]},{"filter":"isValid(datum.val)"}],"mark":{"type":"line","strokeWidth":1.2,"interpolate":"monotone"},"encoding":{"x":{"field":"k","type":"quantitative","scale":{"domain":[0,72],"nice":false,"zero":false},"axis":{"values":[24,48],"labels":false,"title":null}},"y":{"field":"val","type":"quantitative","scale":{"domain":[-800,800],"nice":false,"zero":false},"axis":{"values":[-500,0,500],"title":"[A]"}},"color":{"field":"ph","type":"nominal","scale":{"domain":["a","b","c"],"range":["#0072BD","#D95319","#EDB120"]},"legend":null}}},
{"width":149,"height":82,"data":{"name":"idr"},"transform":[{"fold":["a","b","c"],"as":["ph","val"]},{"filter":"isValid(datum.val)"}],"mark":{"type":"line","strokeWidth":1.2,"interpolate":"monotone"},"encoding":{"x":{"field":"k","type":"quantitative","scale":{"domain":[0,72],"nice":false,"zero":false},"axis":{"values":[24,48],"labels":false,"title":null}},"y":{"field":"val","type":"quantitative","scale":{"domain":[-800,800],"nice":false,"zero":false},"axis":{"values":[-500,0,500],"labels":false,"title":null}},"color":{"field":"ph","type":"nominal","scale":{"domain":["a","b","c"],"range":["#0072BD","#D95319","#EDB120"]},"legend":null}}},
{"width":149,"height":82,"view":{"stroke":"#555555","strokeWidth":1.5},"data":{"name":"idr"},"transform":[{"fold":["a","b","c"],"as":["ph","val"]},{"filter":"isValid(datum.val)"}],"mark":{"type":"line","strokeWidth":1.2,"interpolate":"monotone"},"encoding":{"x":{"field":"k","type":"quantitative","scale":{"domain":[0,72],"nice":false,"zero":false},"axis":{"values":[24,48],"labels":false,"title":null}},"y":{"field":"val","type":"quantitative","scale":{"domain":[-800,800],"nice":false,"zero":false},"axis":{"values":[-500,0,500],"labels":false,"title":null}},"color":{"field":"ph","type":"nominal","scale":{"domain":["a","b","c"],"range":["#0072BD","#D95319","#EDB120"]},"legend":null}}},
{"width":149,"height":82,"view":{"stroke":"#666666","strokeWidth":2},"data":{"name":"idr"},"transform":[{"fold":["a","b","c"],"as":["ph","val"]},{"filter":"isValid(datum.val)"}],"mark":{"type":"line","strokeWidth":1.2,"interpolate":"monotone"},"encoding":{"x":{"field":"k","type":"quantitative","scale":{"domain":[0,72],"nice":false,"zero":false},"axis":{"values":[24,48],"labels":false,"title":null}},"y":{"field":"val","type":"quantitative","scale":{"domain":[-800,800],"nice":false,"zero":false},"axis":{"values":[-500,0,500],"labels":false,"title":null}},"color":{"field":"ph","type":"nominal","scale":{"domain":["a","b","c"],"range":["#0072BD","#D95319","#EDB120"]},"legend":{"title":null,"legendX":-110,"legendY":-14,"labelExpr":"datum.label=='a'?'iLVAC,DR,a':datum.label=='b'?'iLVAC,DR,b':'iLVAC,DR,c'"}}}},
{"width":149,"height":82,"data":{"name":"vdc1"},"transform":[{"fold":["a","b"],"as":["ph","val"]},{"filter":"isValid(datum.val)"}],"mark":{"type":"line","strokeWidth":1.3},"encoding":{"x":{"field":"k","type":"quantitative","scale":{"domain":[0,72],"nice":false,"zero":false},"axis":{"values":[24,48],"labels":false,"title":null}},"y":{"field":"val","type":"quantitative","scale":{"domain":[300,460],"nice":false,"zero":false},"axis":{"values":[300,340,380,420,460],"title":"[V]"}},"color":{"field":"ph","type":"nominal","scale":{"domain":["a","b"],"range":["#0072BD","#D95319"]},"legend":null}}},
{"width":149,"height":82,"data":{"name":"vdc2"},"transform":[{"fold":["a","b"],"as":["ph","val"]},{"filter":"isValid(datum.val)"}],"mark":{"type":"line","strokeWidth":1.3},"encoding":{"x":{"field":"k","type":"quantitative","scale":{"domain":[0,72],"nice":false,"zero":false},"axis":{"values":[24,48],"labels":false,"title":null}},"y":{"field":"val","type":"quantitative","scale":{"domain":[300,460],"nice":false,"zero":false},"axis":{"values":[300,340,380,420,460],"labels":false,"title":null}},"color":{"field":"ph","type":"nominal","scale":{"domain":["a","b"],"range":["#0072BD","#D95319"]},"legend":null}}},
{"width":149,"height":82,"view":{"stroke":"#555555","strokeWidth":1.5},"data":{"name":"vdc3"},"transform":[{"fold":["a","b"],"as":["ph","val"]},{"filter":"isValid(datum.val)"}],"mark":{"type":"line","strokeWidth":1.3},"encoding":{"x":{"field":"k","type":"quantitative","scale":{"domain":[0,72],"nice":false,"zero":false},"axis":{"values":[24,48],"labels":false,"title":null}},"y":{"field":"val","type":"quantitative","scale":{"domain":[300,460],"nice":false,"zero":false},"axis":{"values":[300,340,380,420,460],"labels":false,"title":null}},"color":{"field":"ph","type":"nominal","scale":{"domain":["a","b"],"range":["#0072BD","#D95319"]},"legend":null}}},
{"width":149,"height":82,"view":{"stroke":"#666666","strokeWidth":2},"data":{"name":"vdc4"},"transform":[{"fold":["a","b"],"as":["ph","val"]},{"filter":"isValid(datum.val)"}],"mark":{"type":"line","strokeWidth":1.3},"encoding":{"x":{"field":"k","type":"quantitative","scale":{"domain":[0,72],"nice":false,"zero":false},"axis":{"values":[24,48],"labels":false,"title":null}},"y":{"field":"val","type":"quantitative","scale":{"domain":[300,460],"nice":false,"zero":false},"axis":{"values":[300,340,380,420,460],"labels":false,"title":null}},"color":{"field":"ph","type":"nominal","scale":{"domain":["a","b"],"range":["#0072BD","#D95319"]},"legend":{"title":null,"legendX":8,"legendY":-14,"labelExpr":"datum.label=='a'?'VDC,AFE':'VDC,DR'"}}}},
{"width":149,"height":82,"data":{"name":"vload"},"transform":[{"fold":["a"],"as":["ph","val"]},{"filter":"isValid(datum.val)"}],"mark":{"type":"line","strokeWidth":1.3},"encoding":{"x":{"field":"k","type":"quantitative","scale":{"domain":[0,72],"nice":false,"zero":false},"axis":{"values":[24,48],"labels":false,"title":null}},"y":{"field":"val","type":"quantitative","scale":{"domain":[720,800],"nice":false,"zero":false},"axis":{"values":[720,740,760,780,800],"title":"[V]"}},"color":{"field":"ph","type":"nominal","scale":{"domain":["a"],"range":["#0072BD"]},"legend":null}}},
{"width":149,"height":82,"data":{"name":"vload"},"transform":[{"fold":["a"],"as":["ph","val"]},{"filter":"isValid(datum.val)"}],"mark":{"type":"line","strokeWidth":1.3},"encoding":{"x":{"field":"k","type":"quantitative","scale":{"domain":[0,72],"nice":false,"zero":false},"axis":{"values":[24,48],"labels":false,"title":"Time t [20 ms/div]","titleX":150.5,"titleY":5,"titleAlign":"center","titleBaseline":"top","titleFontSize":15.5}},"y":{"field":"val","type":"quantitative","scale":{"domain":[720,800],"nice":false,"zero":false},"axis":{"values":[720,740,760,780,800],"labels":false,"title":null}},"color":{"field":"ph","type":"nominal","scale":{"domain":["a"],"range":["#0072BD"]},"legend":null}}},
{"width":149,"height":82,"view":{"stroke":"#555555","strokeWidth":1.5},"data":{"name":"vload3"},"transform":[{"fold":["a"],"as":["ph","val"]},{"filter":"isValid(datum.val)"}],"mark":{"type":"line","strokeWidth":1.2},"encoding":{"x":{"field":"k","type":"quantitative","scale":{"domain":[0,72],"nice":false,"zero":false},"axis":{"values":[24,48],"labels":false,"title":null}},"y":{"field":"val","type":"quantitative","scale":{"domain":[720,800],"nice":false,"zero":false},"axis":{"values":[720,740,760,780,800],"labels":false,"title":null}},"color":{"field":"ph","type":"nominal","scale":{"domain":["a"],"range":["#0072BD"]},"legend":null}}},
{"width":149,"height":82,"view":{"stroke":"#666666","strokeWidth":2},"data":{"name":"vload"},"transform":[{"fold":["a"],"as":["ph","val"]},{"filter":"isValid(datum.val)"}],"mark":{"type":"line","strokeWidth":1.3},"encoding":{"x":{"field":"k","type":"quantitative","scale":{"domain":[0,72],"nice":false,"zero":false},"axis":{"values":[24,48],"labels":false,"title":null}},"y":{"field":"val","type":"quantitative","scale":{"domain":[720,800],"nice":false,"zero":false},"axis":{"values":[720,740,760,780,800],"labels":false,"title":null}},"color":{"field":"ph","type":"nominal","scale":{"domain":["a"],"range":["#0072BD"]},"legend":{"title":null,"legendX":80,"legendY":-14,"labelExpr":"'VDC,load'"}}}}
]
}
